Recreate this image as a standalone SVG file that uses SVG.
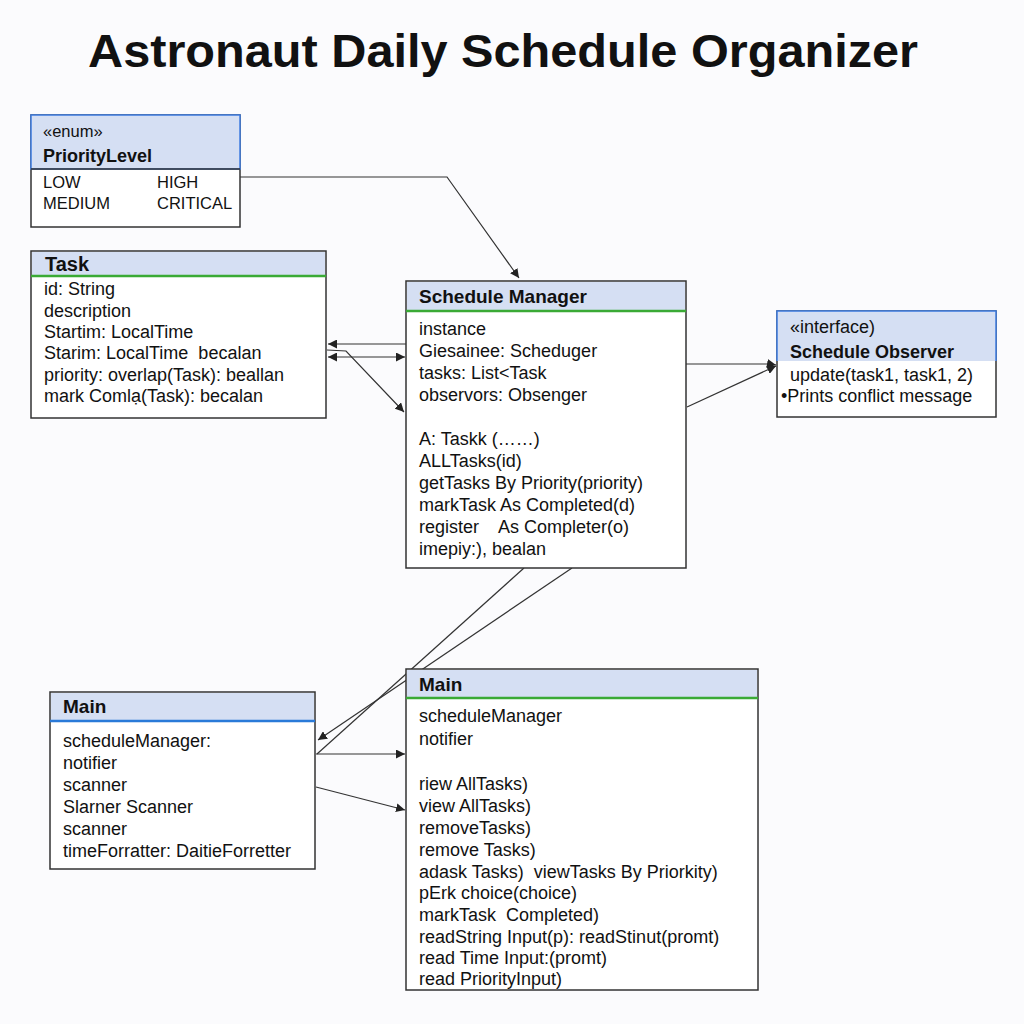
<svg xmlns="http://www.w3.org/2000/svg" width="1024" height="1024" viewBox="0 0 1024 1024">
<defs>
<marker id="arr" viewBox="0 0 10 10" refX="10" refY="5" markerWidth="9" markerHeight="9" markerUnits="userSpaceOnUse" orient="auto-start-reverse">
<path d="M0,0 L10,5 L0,10 z" fill="#222"/>
</marker>
<style>
.box{fill:#fff;stroke:#333;stroke-width:1.5}
.hdr{fill:#d5dff3}
.hb{stroke:#3c7be0;stroke-width:1.5;fill:none}
.gl{stroke:#3aaa35;stroke-width:2.5}
.bl{stroke:#2a7ad8;stroke-width:2.5}
.dv{stroke:#333;stroke-width:1.5}
text{font-family:"Liberation Sans",Arial,sans-serif;fill:#111;white-space:pre}
.t{font-size:18px}
.e{font-size:16.5px}
.n{font-size:19px;font-weight:bold}
.ttl{font-size:46px;font-weight:bold}
.c{stroke:#333;stroke-width:1.2;fill:none}
</style>
</defs>
<rect width="1024" height="1024" fill="#fbfbfd"/>
<text class="ttl" x="503" y="67" text-anchor="middle" textLength="830" lengthAdjust="spacingAndGlyphs">Astronaut Daily Schedule Organizer</text>

<g id="connectors">
<polyline class="c" points="240,177 447,177 519,278" marker-end="url(#arr)"/>
<line class="c" x1="406" y1="344" x2="328" y2="344" marker-end="url(#arr)"/>
<line class="c" x1="328" y1="357" x2="405" y2="357" marker-start="url(#arr)" marker-end="url(#arr)"/>
<polyline class="c" points="327,350 346,351 404,412" marker-end="url(#arr)"/>
<polyline class="c" points="686,364 770,364 776,365" marker-end="url(#arr)"/>
<line class="c" x1="687" y1="407" x2="776" y2="366" marker-end="url(#arr)"/>
<line class="c" x1="572" y1="568" x2="318" y2="740" marker-end="url(#arr)"/>
<line class="c" x1="524" y1="568" x2="317" y2="754"/>
<line class="c" x1="316" y1="754" x2="405" y2="754" marker-end="url(#arr)"/>
<line class="c" x1="316" y1="787" x2="405" y2="810" marker-end="url(#arr)"/>
</g>

<g id="priority-level">
<rect class="box" x="31" y="115" width="209" height="112"/>
<rect class="hdr" x="31" y="115" width="209" height="54"/>
<rect class="hb" x="31" y="115" width="209" height="54"/>
<line class="dv" x1="31" y1="169" x2="240" y2="169"/>
<text class="e" x="43" y="137">«enum»</text>
<text class="n" x="43" y="162" style="font-size:18px">PriorityLevel</text>
<text class="e" x="43" y="188">LOW</text>
<text class="e" x="157" y="188">HIGH</text>
<text class="e" x="43" y="209">MEDIUM</text>
<text class="e" x="157" y="209">CRITICAL</text>
</g>

<g id="task">
<rect class="box" x="31" y="251" width="295" height="167"/>
<rect class="hdr" x="32" y="252" width="293" height="24"/>
<line class="gl" x1="31" y1="276" x2="326" y2="276"/>
<text class="n" x="45" y="271" style="font-size:20px">Task</text>
<text class="t" x="44" y="295">id: String</text>
<text class="t" x="44" y="317">description</text>
<text class="t" x="44" y="338">Startim: LocalTime</text>
<text class="t" x="44" y="359">Starim: LocalTime  becalan</text>
<text class="t" x="44" y="381">priority: overlap(Task): beallan</text>
<text class="t" x="44" y="402">mark Comlạ(Task): becalan</text>
</g>

<g id="schedule-manager">
<rect class="box" x="406" y="281" width="280" height="287"/>
<rect class="hdr" x="407" y="282" width="278" height="29"/>
<line class="gl" x1="406" y1="311" x2="686" y2="311"/>
<text class="n" x="419" y="303">Schedule Manager</text>
<text class="t" x="419" y="335">instance</text>
<text class="t" x="419" y="357">Giesainee: Scheduger</text>
<text class="t" x="419" y="379">tasks: List&lt;Task</text>
<text class="t" x="419" y="401">observors: Obsenger</text>
<text class="t" x="419" y="445">A: Taskk (……)</text>
<text class="t" x="419" y="467">ALLTasks(id)</text>
<text class="t" x="419" y="489">getTasks By Priority(priority)</text>
<text class="t" x="419" y="511">markTask As Completed(d)</text>
<text class="t" x="419" y="533">register    As Completer(o)</text>
<text class="t" x="419" y="555">imepiy:), bealan</text>
</g>

<g id="schedule-observer">
<rect class="box" x="777" y="311" width="219" height="106"/>
<rect class="hdr" x="777" y="311" width="219" height="50"/>
<polyline class="hb" points="777,361 777,311 996,311 996,361"/>
<text class="t" x="790" y="333">«interface)</text>
<text class="n" x="790" y="358" style="font-size:18px">Schedule Observer</text>
<text class="t" x="790" y="381">update(task1, task1, 2)</text>
<text class="t" x="781" y="402">•Prints conflict message</text>
</g>

<g id="main-left">
<rect class="box" x="50" y="692" width="265" height="177"/>
<rect class="hdr" x="51" y="693" width="263" height="28"/>
<line class="bl" x1="50" y1="721" x2="315" y2="721"/>
<text class="n" x="63" y="713">Main</text>
<text class="t" x="63" y="747">scheduleManager:</text>
<text class="t" x="63" y="769">notifier</text>
<text class="t" x="63" y="791">scanner</text>
<text class="t" x="63" y="813">Slarner Scanner</text>
<text class="t" x="63" y="835">scanner</text>
<text class="t" x="63" y="857">timeForratter: DaitieForretter</text>
</g>

<g id="main-right">
<rect class="box" x="406" y="669" width="352" height="321"/>
<rect class="hdr" x="407" y="670" width="350" height="28"/>
<line class="gl" x1="406" y1="698" x2="758" y2="698"/>
<text class="n" x="419" y="691">Main</text>
<text class="t" x="419" y="722">scheduleManager</text>
<text class="t" x="419" y="745">notifier</text>
<text class="t" x="419" y="790">riew AllTasks)</text>
<text class="t" x="419" y="812">view AllTasks)</text>
<text class="t" x="419" y="834">removeTasks)</text>
<text class="t" x="419" y="856">remove Tasks)</text>
<text class="t" x="419" y="878">adask Tasks)  viewTasks By Priorkity)</text>
<text class="t" x="419" y="899">pErk choice(choice)</text>
<text class="t" x="419" y="921">markTask  Completed)</text>
<text class="t" x="419" y="943">readString Input(p): readStinut(promt)</text>
<text class="t" x="419" y="964">read Time Input:(promt)</text>
<text class="t" x="419" y="985">read PriorityInput)</text>
</g>
</svg>
